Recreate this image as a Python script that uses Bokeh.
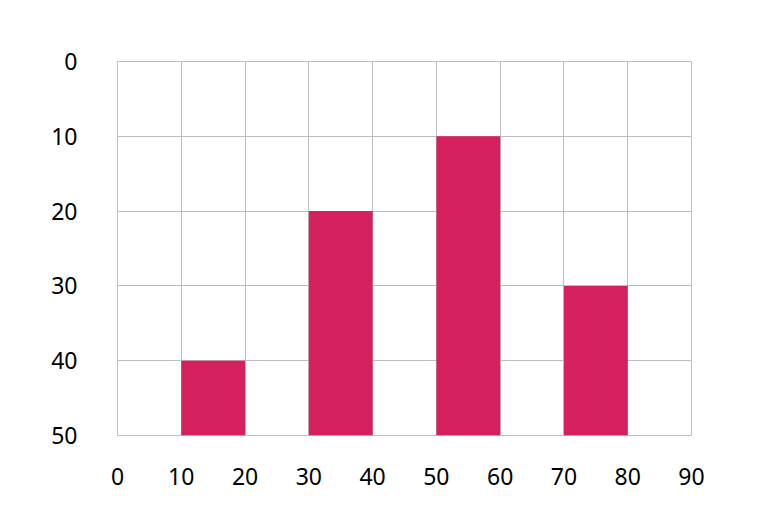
from bokeh.plotting import figure
from bokeh.models import Range1d, FixedTicker
from bokeh.embed import file_html
from bokeh.resources import INLINE

x_centers = [15, 35, 55, 75]
values = [40, 20, 10, 30]
x_ticks = [0, 10, 20, 30, 40, 50, 60, 70, 80, 90]
y_ticks = [0, 10, 20, 30, 40, 50]

p = figure(width=765, height=522, output_backend="svg", toolbar_location=None,
           x_range=Range1d(0, 90), y_range=Range1d(50, 0),
           min_border_left=117, min_border_top=61, min_border_right=74, min_border_bottom=87)
p.frame_width = 574
p.frame_height = 374

p.vbar(x=x_centers, top=values, bottom=50, width=10, color="#D61F5E", line_color=None)

p.outline_line_color = "#c0c0c0"
for ax in (p.xaxis, p.yaxis):
    ax.axis_line_color = None
    ax.major_tick_line_color = None
    ax.minor_tick_line_color = None
    ax.major_tick_out = 0
    ax.major_tick_in = 0
    ax.minor_tick_out = 0
    ax.major_label_text_font = "Noto Sans"
    ax.major_label_text_font_size = "23px"
    ax.major_label_text_color = "#000000"
p.xaxis.ticker = FixedTicker(ticks=x_ticks)
p.yaxis.ticker = FixedTicker(ticks=y_ticks)
p.xaxis.major_label_standoff = 32
p.yaxis.major_label_standoff = 40
p.xgrid.ticker = FixedTicker(ticks=x_ticks)
p.ygrid.ticker = FixedTicker(ticks=y_ticks)
for g in (p.xgrid, p.ygrid):
    g.grid_line_color = "#bdbdbd"
    g.grid_line_width = 1

open("out.html", "w").write(file_html(p, INLINE))
